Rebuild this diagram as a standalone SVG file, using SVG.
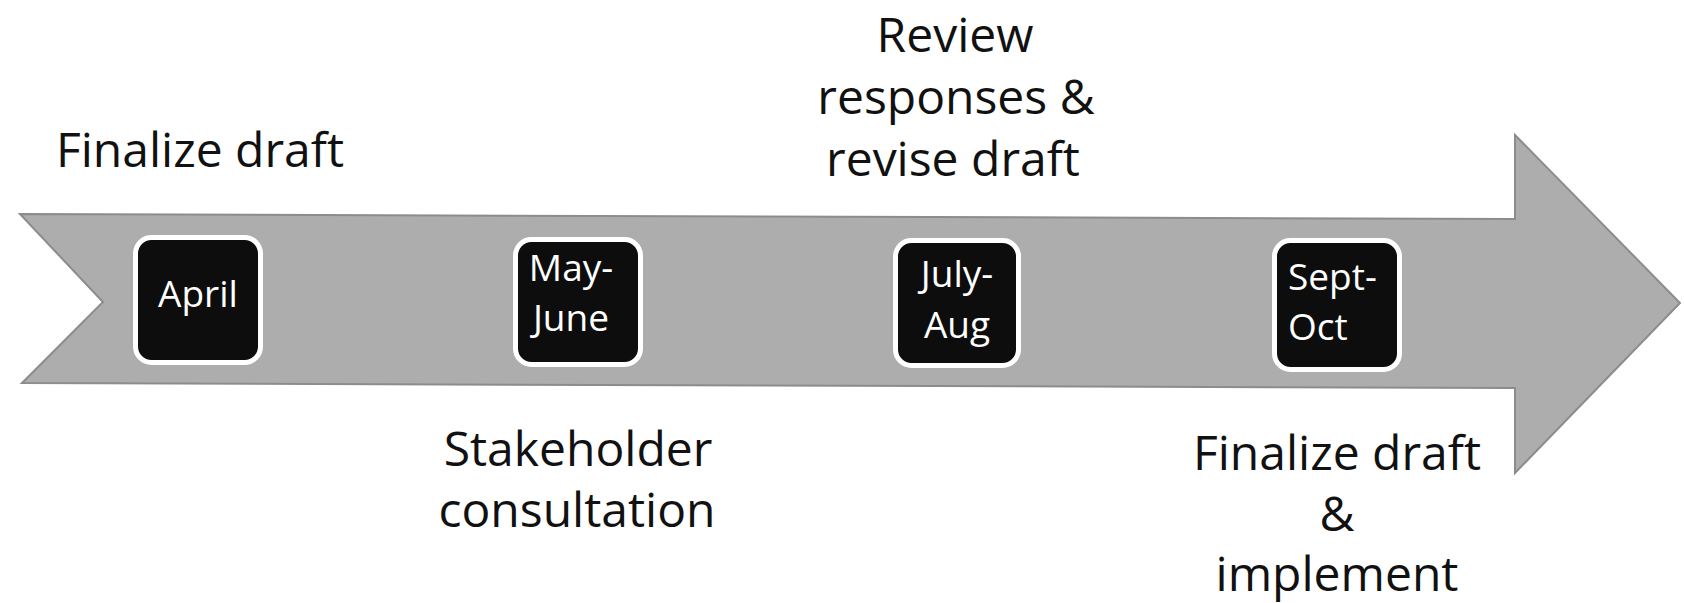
<svg xmlns="http://www.w3.org/2000/svg" width="1684" height="603" viewBox="0 0 1684 603">
<style>
.lbl{font-family:"Open Sans","Liberation Sans",sans-serif;font-size:48px;fill:#111;text-anchor:middle}
.box{fill:#0d0d0d;stroke:#ffffff;stroke-width:5}
.bt{font-family:"Open Sans","Liberation Sans",sans-serif;font-size:37px;fill:#ffffff}
</style>
<rect width="1684" height="603" fill="#ffffff"/>
<g id="timeline-arrow">
<polygon points="20,214 1515,219 1515,135 1680,303 1515,473 1515,388 22,383 103,302" fill="#adadad" stroke="#8c8c8c" stroke-width="2" stroke-linejoin="miter"/>
</g>
<g id="connectors"></g>
<g id="node-april">
<rect class="box" x="135.5" y="237.5" width="125" height="125" rx="16"/>
<text class="bt" x="198" y="307" text-anchor="middle">April</text>
</g>
<g id="node-may-june">
<rect class="box" x="515.5" y="239.5" width="125" height="125" rx="16"/>
<text class="bt" x="571" y="281" text-anchor="middle">May-</text>
<text class="bt" x="571" y="331" text-anchor="middle">June</text>
</g>
<g id="node-july-aug">
<rect class="box" x="895.5" y="240.5" width="123" height="125" rx="16"/>
<text class="bt" x="957" y="287" text-anchor="middle">July-</text>
<text class="bt" x="957" y="338" text-anchor="middle">Aug</text>
</g>
<g id="node-sept-oct">
<rect class="box" x="1274.5" y="240.5" width="125" height="129" rx="16"/>
<text class="bt" x="1288" y="290">Sept-</text>
<text class="bt" x="1288" y="340">Oct</text>
</g>
<g id="label-finalize-draft">
<text class="lbl" x="200" y="167">Finalize draft</text>
</g>
<g id="label-review">
<text class="lbl" x="955" y="52">Review</text>
<text class="lbl" x="956" y="114">responses &amp;</text>
<text class="lbl" x="953" y="176">revise draft</text>
</g>
<g id="label-stakeholder">
<text class="lbl" x="578" y="466">Stakeholder</text>
<text class="lbl" x="577" y="527">consultation</text>
</g>
<g id="label-finalize-implement">
<text class="lbl" x="1337" y="470">Finalize draft</text>
<text class="lbl" x="1337" y="531">&amp;</text>
<text class="lbl" x="1337" y="591">implement</text>
</g>
</svg>
